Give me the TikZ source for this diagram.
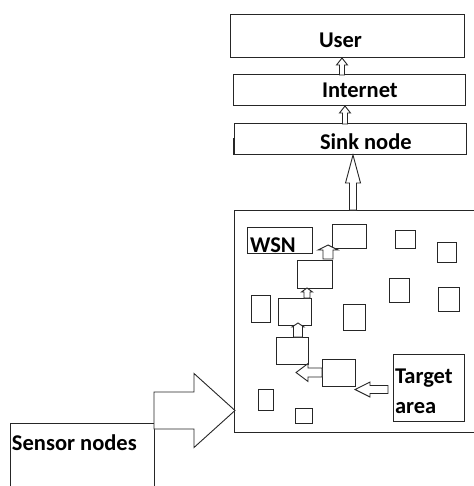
\documentclass[tikz,border=0pt]{standalone}
\usepackage{fontspec}
\setmainfont{Carlito}
\begin{document}
\begin{tikzpicture}[x=1pt,y=-1pt,
  box/.style={draw=black!85, line width=1pt, fill=none, inner sep=0pt, outer sep=0pt, anchor=north west},
  blockarrow/.style={draw=black!85, line width=0.9pt, fill=white, line join=miter},
  lbl/.style={inner sep=0pt, outer sep=0pt, anchor=base west, font=\bfseries\fontsize{22.5}{30}\selectfont, text=black}]
% page frame
\useasboundingbox (0,0) rectangle (473,486);

% rectangle from corner (x1,y1) to (x2,y2)
\newcommand\boxnode[5]{%
  \node[box, minimum width={(#4-#2)*1pt}, minimum height={(#5-#3)*1pt}] (#1) at (#2,#3) {};}
% hollow block arrows: centre, tail, tip, half shaft, half head, head length
\newcommand\uparr[6]{%
  \draw[blockarrow] (#1-#4,#2) -- (#1-#4,#3+#6) -- (#1-#5,#3+#6) -- (#1,#3)
    -- (#1+#5,#3+#6) -- (#1+#4,#3+#6) -- (#1+#4,#2) -- cycle;}
\newcommand\leftarr[6]{%
  \draw[blockarrow] (#1,#3-#4) -- (#2+#6,#3-#4) -- (#2+#6,#3-#5) -- (#2,#3)
    -- (#2+#6,#3+#5) -- (#2+#6,#3+#4) -- (#1,#3+#4) -- cycle;}
\newcommand\rightarr[6]{%
  \draw[blockarrow] (#1,#3-#4) -- (#2-#6,#3-#4) -- (#2-#6,#3-#5) -- (#2,#3)
    -- (#2-#6,#3+#5) -- (#2-#6,#3+#4) -- (#1,#3+#4) -- cycle;}

% upper stack
\boxnode{user}{230}{15}{464}{58}
\boxnode{internet}{233}{75}{465}{106}
\boxnode{sink}{234}{124}{466}{155}
\draw[black!85, line width=1.6pt] (sink.west |- 0,138) -- (sink.south west);

% sensing field (open to the right)
\boxnode{field}{234}{210}{500}{432}
\boxnode{wsn}{247}{227}{312}{253}
\boxnode{na}{332}{224}{366}{248}
\boxnode{nb}{297}{260}{332}{288}
\boxnode{nc}{278}{298}{311}{325}
\boxnode{nd}{276}{337}{308}{364}
\boxnode{ne}{322}{359}{355}{386}
\boxnode{target}{393}{354}{464}{421}
\boxnode{s1}{395}{230}{415}{248}
\boxnode{s2}{437}{242}{456}{262}
\boxnode{s3}{389}{278}{409}{302}
\boxnode{s4}{438}{287}{459}{311}
\boxnode{s5}{251}{295}{270}{322}
\boxnode{s6}{343}{304}{365}{330}
\boxnode{s7}{258}{389}{273}{410}
\boxnode{s8}{295}{408}{312}{423}

% sensor nodes box
\boxnode{sensor}{10}{423}{154}{510}

% arrows
\uparr{342}{75}{58}{2.5}{5.5}{7}
\uparr{345}{124}{106}{2.5}{5.5}{7}
\uparr{353}{210}{155}{3.5}{7.5}{28}
\uparr{328}{259}{245}{5}{10}{5}
\uparr{307}{298}{288}{3}{5.5}{4}
\uparr{298}{337}{323}{4.5}{6}{4}
\leftarr{322}{296}{372.5}{4.5}{9}{12}
\leftarr{388}{355}{389.5}{4}{7.5}{15}
\rightarr{154}{235}{410.5}{18.5}{37}{41}

% labels
\node[lbl] (tuser) at (319,48) {User};
\node[lbl] (tinternet) at (322,98) {Internet};
\node[lbl] (tsink) at (320,150) {Sink node};
\node[lbl] (twsn) at (250,252) {WSN};
\node[lbl] (ttarget) at (395,383) {Target};
\node[lbl] (tarea) at (395,413) {area};
\node[lbl] (tsensor) at (12,450) {Sensor nodes};
\end{tikzpicture}
\end{document}
